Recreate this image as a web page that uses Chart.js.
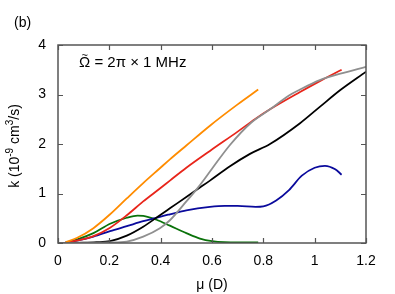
<!DOCTYPE html>
<html>
<head>
<meta charset="utf-8">
<script src="https://cdn.jsdelivr.net/npm/chart.js@4"></script>
<style>
html,body{margin:0;padding:0;background:#fff;}
#wrap{width:395px;height:294px;position:relative;}
</style>
</head>
<body>
<div id="wrap"><canvas id="c" width="395" height="294"></canvas></div>
<script>
// ---- data ----
const xTicks = [0, 0.2, 0.4, 0.6, 0.8, 1, 1.2];
const yTicks = [0, 1, 2, 3, 4];

const orangeMu = [0.03, 0.073, 0.138, 0.203, 0.268, 0.332, 0.397, 0.436, 0.5, 0.592, 0.7, 0.78];
const orangeK  = [0.02, 0.10, 0.30, 0.58, 0.90, 1.21, 1.51, 1.69, 1.97, 2.37, 2.80, 3.10];

const redMu = [0.03, 0.073, 0.138, 0.203, 0.268, 0.332, 0.397, 0.436, 0.5, 0.592, 0.7, 0.767, 0.826, 0.943, 1.02, 1.105];
const redK  = [0.01, 0.05, 0.14, 0.31, 0.56, 0.84, 1.10, 1.26, 1.52, 1.86, 2.25, 2.50, 2.70, 3.05, 3.27, 3.50];

const greenMu = [0.03, 0.073, 0.138, 0.203, 0.268, 0.31, 0.332, 0.384, 0.436, 0.5, 0.553, 0.6, 0.7, 0.78];
const greenK  = [0.01, 0.07, 0.20, 0.39, 0.51, 0.555, 0.55, 0.47, 0.35, 0.20, 0.09, 0.04, 0.01, 0.01];

const blueMu = [0.03, 0.073, 0.138, 0.203, 0.268, 0.332, 0.397, 0.436, 0.5, 0.592, 0.65, 0.7, 0.77, 0.8, 0.85, 0.9, 0.95, 1.0, 1.04, 1.08, 1.105];
const blueK  = [0.01, 0.05, 0.13, 0.24, 0.34, 0.44, 0.53, 0.58, 0.66, 0.73, 0.75, 0.75, 0.73, 0.74, 0.86, 1.07, 1.36, 1.52, 1.56, 1.49, 1.38];

const blackMu = [0.0, 0.1, 0.15, 0.203, 0.268, 0.332, 0.397, 0.436, 0.5, 0.553, 0.592, 0.67, 0.748, 0.826, 0.943, 1.02, 1.1, 1.2];
const blackK  = [0.0, 0.005, 0.015, 0.04, 0.15, 0.33, 0.56, 0.70, 0.93, 1.12, 1.26, 1.55, 1.80, 2.00, 2.42, 2.75, 3.09, 3.46];

const grayMu = [0.0, 0.2, 0.268, 0.332, 0.397, 0.436, 0.5, 0.55, 0.6, 0.67, 0.75, 0.826, 0.9, 0.943, 1.02, 1.1, 1.2];
const grayK  = [0.0, 0.01, 0.03, 0.13, 0.30, 0.46, 0.84, 1.15, 1.50, 1.98, 2.42, 2.70, 2.98, 3.10, 3.29, 3.42, 3.56];

const annotationSymbol = "\u03A9";
const annotationRest = " = 2\u03C0 \u00D7 1 MHz";
const panelLabel = "(b)";
const xTitle = "\u03BC (D)";
// y title pieces: [text, superscript?]
const yTitleParts = [["k (10", false], ["-9", true], [" cm", false], ["3", true], ["/s)", false]];

function pts(mu, k){ return mu.map((m,i)=>({x:m, y:k[i]})); }
function ds(mu, k, color){
  return {data: pts(mu,k), borderColor: color, borderWidth: 1.8, pointRadius: 0,
          fill: false, cubicInterpolationMode: 'monotone'};
}

const FONT = "'Liberation Sans', Arial, sans-serif";

const framePlugin = {
  id: 'frame',
  afterDraw(chart){
    const {ctx, chartArea:a, scales} = chart;
    ctx.save();
    ctx.strokeStyle = '#555';
    ctx.lineWidth = 1.2;
    ctx.beginPath();
    xTicks.forEach(v=>{
      const px = Math.round(scales.x.getPixelForValue(v))+0.5;
      ctx.moveTo(px, a.bottom); ctx.lineTo(px, a.bottom-5);
      ctx.moveTo(px, a.top); ctx.lineTo(px, a.top+5);
    });
    yTicks.forEach(v=>{
      const py = Math.round(scales.y.getPixelForValue(v))+0.5;
      ctx.moveTo(a.left, py); ctx.lineTo(a.left+5, py);
      ctx.moveTo(a.right, py); ctx.lineTo(a.right-5, py);
    });
    ctx.stroke();
    ctx.lineWidth = 1.5;
    ctx.strokeRect(a.left, a.top, a.right-a.left, a.bottom-a.top);

    ctx.fillStyle = '#000';
    ctx.textBaseline = 'alphabetic';
    ctx.textAlign = 'left';
    // annotation with tilde over Omega
    ctx.font = "15px " + FONT;
    const ax = a.left + 21, ay = a.top + 22;
    ctx.fillText(annotationSymbol, ax, ay);
    const wO = ctx.measureText(annotationSymbol).width;
    ctx.fillText(annotationRest, ax + wO, ay);
    ctx.font = "11px " + FONT;
    ctx.textAlign = 'center';
    ctx.fillText("~", ax + wO/2, ay - 8);
    ctx.textAlign = 'left';
    // panel label
    ctx.font = "14px " + FONT;
    ctx.fillText(panelLabel, 14, 27);

    // y-axis title with superscripts, rotated
    const mainF = "14px " + FONT, supF = "10px " + FONT;
    let total = 0;
    yTitleParts.forEach(([t, sup])=>{ ctx.font = sup ? supF : mainF; total += ctx.measureText(t).width; });
    ctx.translate(19, (a.top + a.bottom)/2 + 2);
    ctx.rotate(-Math.PI/2);
    let x = -total/2;
    yTitleParts.forEach(([t, sup])=>{
      ctx.font = sup ? supF : mainF;
      ctx.fillText(t, x, sup ? -6 : 0);
      x += ctx.measureText(t).width;
    });
    ctx.restore();
  }
};

new Chart(document.getElementById('c'), {
  type: 'line',
  data: {
    datasets: [
      ds(orangeMu, orangeK, '#ff8c00'),
      ds(grayMu, grayK, '#8f8f8f'),
      ds(blackMu, blackK, '#000000'),
      ds(redMu, redK, '#e8251a'),
      ds(blueMu, blueK, '#0a0a9c'),
      ds(greenMu, greenK, '#0a720a')
    ]
  },
  options: {
    responsive: false,
    animation: false,
    layout: {padding: {left: 0, right: 29, top: 45, bottom: 0}},
    plugins: {legend: {display: false}, tooltip: {enabled: false}},
    scales: {
      x: {
        type: 'linear', min: 0, max: 1.2,
        afterBuildTicks(s){ s.ticks = xTicks.map(v=>({value:v})); },
        afterFit(s){ s.height = 51; },
        grid: {display: false, drawTicks: false},
        border: {display: false},
        ticks: {color: '#000', font: {family: FONT, size: 14}, padding: 10,
                maxRotation: 0, callback: v => String(v)},
        title: {display: true, text: xTitle, color: '#000',
                font: {family: FONT, size: 14}, padding: {top: 2, bottom: 0}}
      },
      y: {
        type: 'linear', min: 0, max: 4,
        afterBuildTicks(s){ s.ticks = yTicks.map(v=>({value:v})); },
        afterFit(s){ s.width = 58; },
        grid: {display: false, drawTicks: false},
        border: {display: false},
        ticks: {color: '#000', font: {family: FONT, size: 14}, padding: 12,
                callback: v => String(v)},
        title: {display: false}
      }
    }
  },
  plugins: [framePlugin]
});
</script>
</body>
</html>
